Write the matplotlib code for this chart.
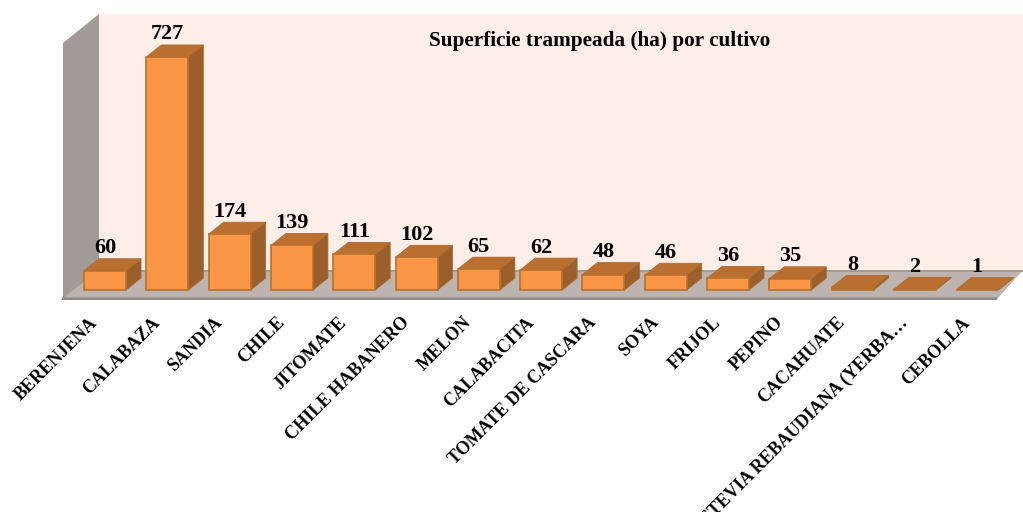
import matplotlib
matplotlib.use("Agg")
import matplotlib.pyplot as plt
from matplotlib.patches import Polygon

# -------------------------------
# Data
# -------------------------------
cultivos = ["BERENJENA", "CALABAZA", "SANDIA", "CHILE", "JITOMATE", "CHILE HABANERO",
            "MELON", "CALABACITA", "TOMATE DE CASCARA", "SOYA", "FRIJOL", "PEPINO",
            "CACAHUATE", "STEVIA REBAUDIANA (YERBA…", "CEBOLLA"]
hectareas = [60, 727, 174, 139, 111, 102, 65, 62, 48, 46, 36, 35, 8, 2, 1]
titulo = "Superficie trampeada (ha) por cultivo"

# -------------------------------
# Scale: data units <-> image pixels
# -------------------------------
X0_PX, STEP_PX = 105.0, 62.3
Y0_PX, UNIT_PX = 290.0, 0.3205
W, H = 1023, 512


def px(x, y):
    return ((x - X0_PX) / STEP_PX, (Y0_PX - y) / UNIT_PX)


plt.rcParams["font.family"] = ["Liberation Serif", "DejaVu Serif"]
fig = plt.figure(figsize=(W / 100, H / 100), dpi=100)
ax = fig.add_axes([0, 0, 1, 1])
ax.set_xlim(px(0, 0)[0], px(W, 0)[0])
ax.set_ylim(px(0, H)[1], px(0, 0)[1])
ax.axis("off")


def chrome(points, color, z=1):
    ax.add_patch(Polygon([px(*p) for p in points], closed=True, facecolor=color,
                         edgecolor="none", zorder=z))


# -------------------------------
# Walls and floor
# -------------------------------
chrome([(99, 14), (W, 14), (W, 271), (99, 271)], "#fdeee7")
chrome([(63, 43), (99, 14), (99, 271), (63, 299)], "#a29a97")
chrome([(63, 298), (99, 270), (W, 270), (998, 298)], "#bdb3af", 2)
chrome([(99, 269.5), (W, 269.5), (W, 271.5), (99, 271.5)], "#a09c99", 2)
chrome([(62, 297.5), (998, 297.5), (997, 300), (62, 300)], "#8b8b8d", 2)

# -------------------------------
# 3D bars
# -------------------------------
bar_w = 42.0 / STEP_PX
dx = 15.0 / STEP_PX
dy = 12.0 / UNIT_PX

for i, v in enumerate(hectareas):
    l, r = i - bar_w / 2, i + bar_w / 2
    ax.add_patch(Polygon([(r, 0), (r + dx, dy), (r + dx, v + dy), (r, v)], closed=True,
                         facecolor="#9a5f2b", edgecolor="#a8672f", linewidth=0.6, zorder=3))
    ax.add_patch(Polygon([(l, v), (r, v), (r + dx, v + dy), (l + dx, v + dy)], closed=True,
                         facecolor="#b96f30", edgecolor="#b06a2e", linewidth=0.6, zorder=3))
    # the very low bars show no orange front, only the outline colour
    front = "#b8702f" if v < 10 else "#fb9646"
    ax.bar(i, v, width=bar_w, color=front, edgecolor="#b8702f", linewidth=1.2, zorder=4)
    ax.text(i, v + 12.5 / UNIT_PX, str(v), ha="center", va="bottom", fontsize=16,
            fontweight="bold", color="black", zorder=5)
    ax.text(i - 16 / STEP_PX, -24 / UNIT_PX, cultivos[i], rotation=45, rotation_mode="anchor",
            ha="right", va="top", fontsize=13, fontweight="bold", color="black", zorder=5)

tx, ty = px(600, 41)
ax.text(tx, ty, titulo, ha="center", va="center", fontsize=15.3, fontweight="bold", zorder=5)

fig.savefig("out.png", dpi=100)
